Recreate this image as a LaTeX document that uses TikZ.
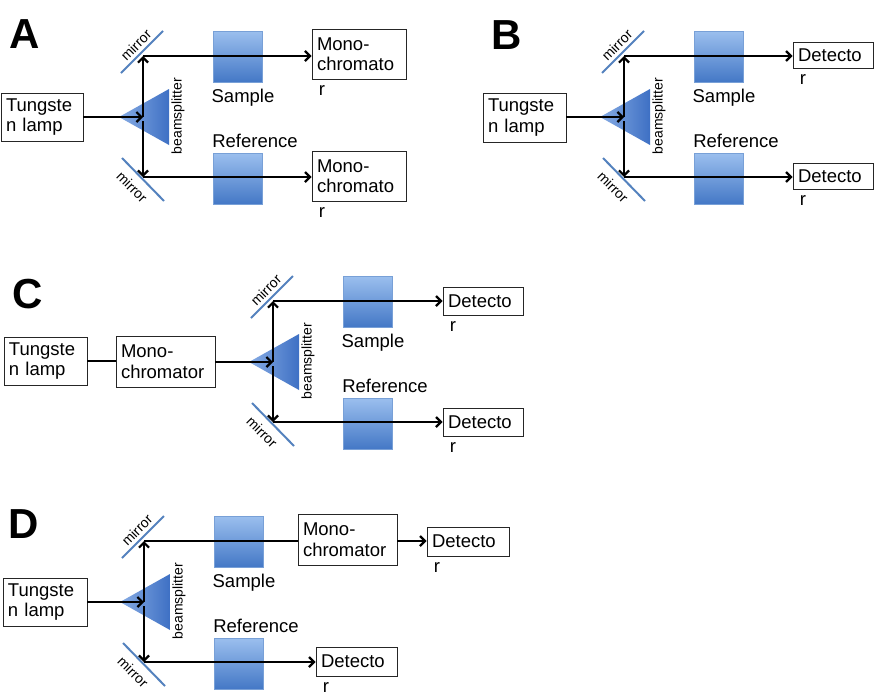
\documentclass[tikz,border=0pt]{standalone}
\usepackage{fontspec}
\setmainfont{Liberation Sans}
\usetikzlibrary{arrows.meta}
\definecolor{mirrorblue}{RGB}{84,130,190}
\definecolor{sqtop}{RGB}{155,191,238}
\definecolor{sqbot}{RGB}{68,120,198}
\definecolor{sqedge}{RGB}{120,160,215}
\definecolor{trilight}{RGB}{135,172,228}
\definecolor{tridark}{RGB}{62,112,196}
\tikzset{
  box/.style={draw=black!85, line width=0.9pt, fill=white, align=left, inner xsep=5pt, inner ysep=1pt,
    font=\fontsize{18.5}{20.5}\selectfont},
  lbl/.style={font=\fontsize{18.5}{20.5}\selectfont, inner sep=0pt},
  small/.style={font=\fontsize{14}{16}\selectfont, inner sep=0pt},
  panelletter/.style={font=\fontsize{42}{46}\selectfont\bfseries, inner sep=0pt},
  tipshape/.style={},
  beam/.style={line width=2.2pt, -{Straight Barb[length=5pt,width=10pt]}},
  plainbeam/.style={line width=2.2pt},
  mirrorline/.style={draw=mirrorblue, line width=2pt},
  sq/.style={minimum width=49pt, minimum height=51pt, inner sep=0pt, draw=sqedge, line width=0.6pt,
    top color=sqtop, bottom color=sqbot},
  rlabel/.style={label={[lbl, anchor=north west, xshift=7pt, yshift=-6pt]south west:r}},
  core/.pic={
    \path[left color=trilight, right color=tridark] (-24,0) -- (26,-28) -- (26,28) -- cycle;
    \draw[mirrorline] (-22,-44) -- (20,-86);
    \draw[mirrorline] (-21,41) -- (21,84);
    \node[small, rotate=45] (-m1) at (-7,-72) {mirror};
    \node[small, rotate=-45] (-m2) at (-11,70) {mirror};
    \node[small, rotate=90] (-bs) at (35,-1) {beamsplitter};
    \node[sq] (-s) at (94.5,-60.5) {};
    \node[sq] (-r) at (94.5,61.5) {};
    \node[lbl] (-sl) at (100,-19) {Sample};
    \node[lbl] (-rl) at (112,24) {Reference};
    \coordinate (-c) at (0,0);
    \coordinate (-c2) at (0,4);
    \coordinate (-t) at (0,-61);
    \coordinate (-b) at (0,60);
  }
}
\begin{document}
\begin{tikzpicture}[x=1pt, y=-1pt]
\useasboundingbox[fill=white] (0,0) rectangle (878,699);

% ---------- Panel A ----------
\node[panelletter] (lA) at (25,34) {A};
\pic (A) at (143,117) {core};
\node[box, minimum width=82pt, minimum height=48pt, text width=72pt] (Alamp) at (42,117) {Tungste\\n lamp};
\node[box, minimum width=94pt, minimum height=50pt, text width=84pt, rlabel] (Amt) at (359,54) {Mono-\\chromato};
\node[box, minimum width=94pt, minimum height=50pt, text width=84pt, rlabel] (Amb) at (359,176) {Mono-\\chromato};
\draw[beam] (A-c -| Alamp.east) -- (A-c);
\draw[beam] (A-c) -- (A-t);
\draw[beam] (A-c2) -- (A-b);
\draw[beam] (A-t) -- (A-t -| Amt.west);
\draw[beam] (A-b) -- (A-b -| Amb.west);

% ---------- Panel B ----------
\node[panelletter] (lB) at (507,35) {B};
\pic (B) at (624,117) {core};
\node[box, minimum width=83pt, minimum height=49pt, text width=73pt] (Blamp) at (524.5,117.5) {Tungste\\n lamp};
\node[box, minimum width=80pt, minimum height=26pt, text width=70pt, rlabel] (Bdt) at (833,55) {Detecto};
\node[box, minimum width=80pt, minimum height=26pt, text width=70pt, rlabel] (Bdb) at (833,176) {Detecto};
\draw[beam] (B-c -| Blamp.east) -- (B-c);
\draw[beam] (B-c) -- (B-t);
\draw[beam] (B-c2) -- (B-b);
\draw[beam] (B-t) -- (B-t -| Bdt.west);
\draw[beam] (B-b) -- (B-b -| Bdb.west);

% ---------- Panel C ----------
\node[panelletter] (lC) at (28,294) {C};
\pic (C) at (273,362) {core};
\node[box, minimum width=83pt, minimum height=48pt, text width=73pt] (Clamp) at (45.5,361) {Tungste\\n lamp};
\node[box, minimum width=99pt, minimum height=51pt, text width=89pt] (Cmono) at (165.5,361.5) {Mono-\\chromator};
\node[box, minimum width=80pt, minimum height=28pt, text width=70pt, rlabel] (Cdt) at (483,301) {Detecto};
\node[box, minimum width=80pt, minimum height=28pt, text width=70pt, rlabel] (Cdb) at (483,422) {Detecto};
\draw[plainbeam] (Clamp.east) -- (Clamp.east -| Cmono.west);
\draw[beam] (C-c -| Cmono.east) -- (C-c);
\draw[beam] (C-c) -- (C-t);
\draw[beam] (C-c2) -- (C-b);
\draw[beam] (C-t) -- (C-t -| Cdt.west);
\draw[beam] (C-b) -- (C-b -| Cdb.west);

% ---------- Panel D ----------
\node[panelletter] (lD) at (24,524) {D};
\pic (D) at (144,602) {core};
\node[box, minimum width=84pt, minimum height=48pt, text width=74pt] (Dlamp) at (45,602) {Tungste\\n lamp};
\node[box, minimum width=99pt, minimum height=51pt, text width=89pt] (Dmono) at (347.5,539.5) {Mono-\\chromator};
\node[box, minimum width=82pt, minimum height=29pt, text width=72pt, rlabel] (Ddt) at (468,541.5) {Detecto};
\node[box, minimum width=81pt, minimum height=29pt, text width=71pt, rlabel] (Ddb) at (356.5,661.5) {Detecto};
\draw[beam] (D-c -| Dlamp.east) -- (D-c);
\draw[beam] (D-c) -- (D-t);
\draw[beam] (D-c2) -- (D-b);
\draw[plainbeam] (D-t) -- (D-t -| Dmono.west);
\draw[beam] (D-t -| Dmono.east) -- (D-t -| Ddt.west);
\draw[beam] (D-b) -- (D-b -| Ddb.west);
\end{tikzpicture}
\end{document}
